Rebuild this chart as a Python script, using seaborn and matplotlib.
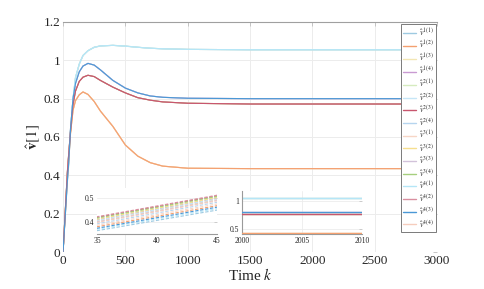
import numpy as np
import pandas as pd
import matplotlib
matplotlib.use("Agg")
import matplotlib.pyplot as plt
import seaborn as sns

# ---------------- data ----------------
series_labels = [r"$\hat{v}^{%d(%d)}$" % (i, j) for i in range(1, 5) for j in range(1, 5)]
series_colors = ["#9ecae1", "#f4a070", "#f3e6b4", "#c99ad2",
                 "#d6ebbf", "#c6e6f7", "#c8566e", "#b6d5ef",
                 "#f7d6c6", "#f6df8e", "#d2c2da", "#a6cf7e",
                 "#b5e6f7", "#d98fa0", "#4a98d6", "#f6cdbd"]
# which settled level each series follows (0: top ... 3: bottom)
series_group = [0, 3, 2, 1,
                0, 0, 2, 1,
                3, 3, 1, 2,
                0, 2, 1, 3]
# early values
k_early = [0, 35, 45]
v_k0 = [0.0] * 16
v_k35 = [0.366, 0.382, 0.405, 0.410, 0.415, 0.408, 0.420, 0.394,
         0.388, 0.413, 0.402, 0.418, 0.372, 0.423, 0.376, 0.400]
v_k45 = [0.450, 0.468, 0.493, 0.498, 0.503, 0.496, 0.508, 0.482,
         0.475, 0.501, 0.490, 0.506, 0.456, 0.511, 0.462, 0.488]
# group trajectories after the initial rise
k_grid = [60, 80, 100, 130, 160, 200, 250, 300, 400, 500, 600, 700, 800, 1000, 1500, 2000, 3000]
g_top = [0.64, 0.80, 0.91, 0.98, 1.025, 1.05, 1.068, 1.075, 1.078, 1.074, 1.068, 1.063, 1.060, 1.057, 1.055, 1.055, 1.055]
g_blue = [0.64, 0.80, 0.88, 0.94, 0.97, 0.984, 0.975, 0.95, 0.895, 0.855, 0.83, 0.814, 0.807, 0.802, 0.800, 0.800, 0.800]
g_red = [0.63, 0.77, 0.84, 0.89, 0.912, 0.922, 0.915, 0.895, 0.86, 0.83, 0.805, 0.792, 0.783, 0.776, 0.772, 0.772, 0.772]
g_orange = [0.62, 0.74, 0.79, 0.82, 0.835, 0.822, 0.785, 0.735, 0.655, 0.558, 0.50, 0.466, 0.448, 0.437, 0.435, 0.435, 0.435]
groups = [g_top, g_blue, g_red, g_orange]

ytick_vals = [0, 0.2, 0.4, 0.6, 0.8, 1.0, 1.2]
ytick_labels = ["0", "0.2", "0.4", "0.6", "0.8", "1", "1.2"]
xtick_vals = [0, 500, 1000, 1500, 2000, 2500, 3000]

rows = []
for s in range(16):
    ks = k_early + k_grid
    vs = [v_k0[s], v_k35[s], v_k45[s]] + groups[series_group[s]]
    for k, v in zip(ks, vs):
        rows.append((series_labels[s], k, v))
df = pd.DataFrame(rows, columns=["series", "k", "v"])

# ---------------- style ----------------
sns.set_style("white")
plt.rcParams["font.family"] = ["Liberation Serif", "DejaVu Serif"]
plt.rcParams["mathtext.fontset"] = "stix"
tc = "#262626"
gc = "#ececec"

fig = plt.figure(figsize=(4.85, 2.89), dpi=100)
ax = fig.add_axes([0.130, 0.128, 0.771, 0.796])
palette = dict(zip(series_labels, series_colors))

sns.lineplot(data=df, x="k", y="v", hue="series", palette=palette,
             hue_order=series_labels, lw=0.8, ax=ax, legend=True, sort=True)
# bring the strongest colour of each level to the front
main_lines = ax.get_lines()
for idx in (1, 6, 14):
    main_lines[idx].set_zorder(3)
ax.set_xlim(0, 3000)
ax.set_ylim(0, 1.2)
ax.set_yticks(ytick_vals)
ax.set_yticklabels(ytick_labels)
ax.set_xticks(xtick_vals)
ax.grid(True, color=gc, lw=0.7)
for sp in ["left", "right", "bottom"]:
    ax.spines[sp].set_visible(False)
ax.spines["top"].set_color("#a0a0a0")
ax.spines["top"].set_linewidth(0.8)
ax.tick_params(axis="both", labelsize=9.5, colors="#bdbdbd", labelcolor=tc,
               direction="in", length=3, width=0.6, right=True, top=True, pad=2)
ax.set_xlabel("Time $k$", fontsize=11, color=tc, labelpad=0)
ax.set_ylabel(r"$\hat{\mathbf{v}}[1]$", fontsize=11, color=tc, labelpad=1)

leg = ax.legend(loc="upper right", bbox_to_anchor=(0.997, 0.991), fontsize=5.8,
                frameon=True, fancybox=False, framealpha=1, edgecolor="#7a7a7a",
                handlelength=1.6, handletextpad=0.3, labelspacing=0.1,
                borderpad=0.3, borderaxespad=0)
leg.set_zorder(5)
leg.get_frame().set_linewidth(0.7)
for line in leg.get_lines():
    line.set_linewidth(1.0)

# ---------------- inset 1 ----------------
ax1 = fig.add_axes([0.200, 0.190, 0.247, 0.159])
sns.lineplot(data=df, x="k", y="v", hue="series", palette=palette,
             hue_order=series_labels, lw=0.8, ax=ax1, legend=False, sort=True)
for ln in ax1.get_lines():
    ln.set_linestyle((0, (3, 1.5)))
ax1.set_xlim(35, 45)
ax1.set_ylim(0.352, 0.54)
ax1.set_xticks([35, 40, 45])
ax1.set_yticks([0.4, 0.5])
ax1.set_yticklabels(["0.4", "0.5"])
ax1.grid(True, axis="y", color=gc, lw=0.6)
for sp in ["left", "right", "top"]:
    ax1.spines[sp].set_visible(False)
ax1.spines["bottom"].set_color("#9a9a9a")
ax1.spines["bottom"].set_linewidth(0.8)
ax1.tick_params(axis="both", labelsize=5.5, colors="#bdbdbd", labelcolor=tc,
                direction="in", length=2, width=0.5, right=True, pad=2)
ax1.set_xlabel("")
ax1.set_ylabel("")

# ---------------- inset 2 ----------------
ax2 = fig.add_axes([0.499, 0.190, 0.247, 0.149])
sns.lineplot(data=df, x="k", y="v", hue="series", palette=palette,
             hue_order=series_labels, lw=0.9, ax=ax2, legend=False, sort=True)
ins_lines = ax2.get_lines()
for idx in (1, 6, 14):
    ins_lines[idx].set_zorder(3)
ax2.set_xlim(2000, 2010)
ax2.set_ylim(0.42, 1.17)
ax2.set_xticks([2000, 2005, 2010])
ax2.set_yticks([0.5, 1])
ax2.set_yticklabels(["0.5", "1"])
ax2.grid(True, color=gc, lw=0.6)
for sp in ["right", "top"]:
    ax2.spines[sp].set_visible(False)
for sp in ["left", "bottom"]:
    ax2.spines[sp].set_color("#9a9a9a")
    ax2.spines[sp].set_linewidth(0.8)
ax2.tick_params(axis="both", labelsize=5.5, colors="#bdbdbd", labelcolor=tc,
                direction="in", length=2, width=0.5, right=True, pad=2)
ax2.set_xlabel("")
ax2.set_ylabel("")

fig.savefig("out.png", dpi=100)
